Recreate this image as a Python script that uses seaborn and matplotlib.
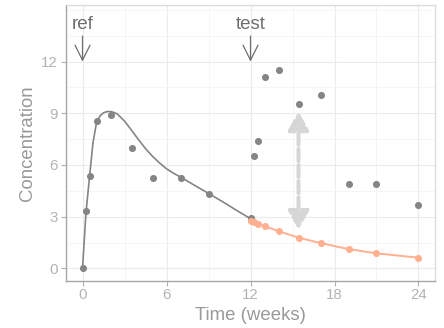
import matplotlib
matplotlib.use("Agg")
import matplotlib.pyplot as plt
import seaborn as sns
import pandas as pd
from matplotlib.ticker import MultipleLocator

# Observed concentrations, reference period
ref_time = [0, 0.25, 0.5, 1, 2, 3.5, 5, 7, 9, 12]
ref_conc = [0, 3.33, 5.34, 8.53, 8.88, 6.98, 5.26, 5.24, 4.31, 2.9]

# Observed concentrations, test period
test_time = [12.25, 12.5, 13, 14, 15.43, 17, 19, 21, 24]
test_conc = [6.55, 7.4, 11.13, 11.54, 9.52, 10.05, 4.87, 4.87, 3.7]

# Fitted profile over the reference period
fit_time = [0, 0.25, 0.5, 0.75, 1.0, 1.25, 1.5, 1.75, 2.0, 2.25, 2.5, 3.0, 3.5,
            4.0, 4.5, 5.0, 5.5, 6.0, 6.5, 7.0, 8.0, 9.0, 10.0, 11.0, 12.0]
fit_conc = [0, 3.25, 5.3, 7.3, 8.45, 8.85, 9.03, 9.1, 9.1, 9.05, 8.95, 8.55, 8.02,
            7.47, 6.95, 6.5, 6.12, 5.78, 5.52, 5.3, 4.82, 4.35, 3.87, 3.37, 2.88]

# Predicted concentrations over the test period
pred_time = [12, 12.25, 12.5, 13, 14, 15.43, 17, 19, 21, 24]
pred_conc = [2.75, 2.67, 2.59, 2.45, 2.16, 1.78, 1.47, 1.12, 0.87, 0.62]

# Gap marker between observed and predicted values
gap_time = 15.43
gap_from, gap_to = 2.25, 9.1

x_ticks = [0, 6, 12, 18, 24]
y_ticks = [0, 3, 6, 9, 12]

observed = pd.DataFrame({"time": ref_time + test_time,
                         "conc": ref_conc + test_conc})
fit = pd.DataFrame({"time": fit_time, "conc": fit_conc})
pred = pd.DataFrame({"time": pred_time, "conc": pred_conc})

sns.set_theme(style="white")
plt.rcParams["font.family"] = ["Liberation Sans", "DejaVu Sans"]

GREY = "#858585"
SALMON = "#ffb090"

fig = plt.figure(figsize=(4.44, 3.28), dpi=100)
ax = fig.add_axes([0.148, 0.144, 0.8324, 0.8405])

sns.lineplot(data=fit, x="time", y="conc", ax=ax, color=GREY, lw=1.2,
             zorder=3, sort=False)
sns.lineplot(data=pred, x="time", y="conc", ax=ax, color=SALMON, lw=1.4,
             zorder=3, sort=False)
sns.scatterplot(data=observed, x="time", y="conc", ax=ax, color=GREY, s=26,
                linewidth=0, zorder=4)
sns.scatterplot(data=pred, x="time", y="conc", ax=ax, color=SALMON, s=26,
                linewidth=0, zorder=4)

# dashed double-headed arrow
ax.annotate("", xy=(gap_time, gap_to), xytext=(gap_time, gap_from),
            arrowprops=dict(arrowstyle="<|-|>,head_length=0.8,head_width=0.45",
                            mutation_scale=14, color="#d6d6d6", lw=2.9,
                            linestyle=(0, (3, 1)), shrinkA=0, shrinkB=0),
            zorder=2)

# period labels
for label, t in [("ref", 0), ("test", 12)]:
    ax.text(t, 13.87, label, ha="center", va="baseline", fontsize=13.5,
            color="#6e6e6e")
    ax.annotate("", xy=(t, 12.0), xytext=(t, 13.48),
                arrowprops=dict(arrowstyle="->,head_length=0.9,head_width=0.45",
                                mutation_scale=12, color="#6e6e6e", lw=0.9,
                                shrinkA=0, shrinkB=0))

ax.set_xlim(-1.2, 25.2)
ax.set_ylim(-0.72, 15.28)
ax.set_xticks(x_ticks)
ax.set_yticks(y_ticks)
ax.xaxis.set_minor_locator(MultipleLocator(3))
ax.yaxis.set_minor_locator(MultipleLocator(1.5))
ax.grid(True, which="major", color="#ebebeb", lw=0.8, zorder=0)
ax.grid(True, which="minor", color="#f4f4f4", lw=0.6, zorder=0)
ax.set_axisbelow(True)

ax.set_xlabel("Time (weeks)", fontsize=13.4, color="#999999", labelpad=3)
ax.set_ylabel("Concentration", fontsize=13.4, color="#999999", labelpad=4)
ax.tick_params(axis="both", which="major", labelsize=10.8, labelcolor="#b3b3b3",
               color="#b3b3b3", length=3.5, width=0.8, pad=2, bottom=True,
               left=True)
ax.tick_params(axis="both", which="minor", length=0)

for side in ["top", "right"]:
    ax.spines[side].set_color("#dcdcdc")
    ax.spines[side].set_linewidth(1.0)
for side in ["left", "bottom"]:
    ax.spines[side].set_color("#a6a6a6")
    ax.spines[side].set_linewidth(1.0)

fig.savefig("out.png", dpi=100)
